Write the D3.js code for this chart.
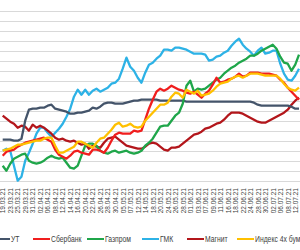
<!DOCTYPE html>
<html>
<head>
<meta charset="utf-8">
<script src="https://cdn.jsdelivr.net/npm/d3@7"></script>
<style>
body{margin:0;background:#fff;}
svg{display:block;font-family:"Liberation Sans",Arial,sans-serif;}
</style>
</head>
<body>
<svg id="chart"></svg>
<script>
var width=300;
var height=250;

// торговые дни
var dates=["19.03.21","22.03.21","23.03.21","24.03.21","25.03.21","26.03.21","29.03.21","30.03.21","31.03.21",
"01.04.21","02.04.21","05.04.21","06.04.21","07.04.21","08.04.21","09.04.21","12.04.21","13.04.21","14.04.21","15.04.21","16.04.21","19.04.21","20.04.21","21.04.21","22.04.21","23.04.21","26.04.21","27.04.21","28.04.21","29.04.21","30.04.21",
"04.05.21","05.05.21","06.05.21","07.05.21","11.05.21","12.05.21","13.05.21","14.05.21","17.05.21","18.05.21","19.05.21","20.05.21","21.05.21","24.05.21","25.05.21","26.05.21","27.05.21","28.05.21","31.05.21",
"01.06.21","02.06.21","03.06.21","04.06.21","07.06.21","08.06.21","09.06.21","10.06.21","11.06.21","15.06.21","16.06.21","17.06.21","18.06.21","21.06.21","22.06.21","23.06.21","24.06.21","25.06.21","28.06.21","29.06.21","30.06.21",
"01.07.21","02.07.21","05.07.21","06.07.21","07.07.21","08.07.21","09.07.21","12.07.21","13.07.21"];

var names=["УТ","Сбербанк","Газпром","ГМК","Магнит","Индекс 4х бумаг"];
var colors=["#44546A","#F01E1E","#1FA64A","#2DB2E6","#B3161B","#FFC000"];

var ut=[0.5,0.5,0.5,0,0,1,10,15.5,16,16,16.5,16.5,17.5,18,16,15.5,15,14.5,13.5,13.5,14,14,14.5,15,16.5,16,17,18.5,19,19,18.5,18.5,18.5,19,19.5,20,20,20.5,20.5,20.5,20.5,20.5,20,20,20,20,20,20,20,
19.5,19.5,19.5,19.5,19.5,19.5,19.5,19.5,19.5,19.5,19.5,19.5,19.5,19.5,19.5,19.5,19.5,19.5,19,18,17.5,17.5,17.5,17.5,17.5,17.5,17.5,17.5,17,16,16];
var sber=[-7.5,-5.5,-5,-4.5,-3,-2,-1,-0.5,0,0.5,1,1.5,0.5,-0.5,-4.5,-7,-8,-9,-7.5,-5.5,-5,-6,-6.5,-7,-4.5,-4.5,-5,-6,-3.5,0,3,4,3.5,3.5,3.5,5,4.5,5,10.5,16,20.5,24.5,26,25,26,27.5,26.5,25.5,25,24,23.5,24.5,23,21.5,23.5,25,28,31.5,29,29.5,30.5,31,32,33.5,32,32.5,34,34,34,33.5,33.5,33.5,33,32.5,30.5,29,26.5,24.5,22.5,20.5];
var gazp=[-12.5,-15,-11.5,-9,-8,-7,-6.5,-10,-11,-11.5,-11,-10,-8.5,-7.5,-8.5,-9,-8.5,-11,-13.5,-14,-12.5,-7.5,-2.5,-1.5,-1.5,-2.5,-5,-6,-6.5,-5.5,-5,-6,-5.5,-5,-6,-6.5,-6,-5,-2.5,-1,1,4,7,7.5,7.5,10,12.5,14,18.5,27.5,30,24.5,26,25.5,26,27.5,29,30.5,31.5,33.5,35,36.5,37.5,39,40,41,42.5,42.5,43.5,45,46,47,48,46,42,39,38.5,35,38,43];
var gmk=[-5,-4,-5,-12.5,-20,-18,-10,-6,-1.5,3.5,6.5,6.5,4,2,4,6,8.5,12,16,22,25.5,23,25.5,23,25,26,24.5,25.5,26.5,28.5,29,31,36,41.5,37,35,31.5,29,34,38,39,41,42.5,45.5,45.5,45,46.5,46.5,46,45.5,44.5,43.5,43.5,43.5,43,40,40.5,42,42.5,44,45,47.5,49.5,51,48,46,44.5,42.5,45,46.5,43.5,44,45,45,38.5,33.5,30.5,30,32.5,36];
var mgnt=[12.5,11,9.5,8.5,6.5,7.5,7,5,8,6.5,7.5,6.5,5,3.5,1.5,0.5,1,0,-0.5,0,-1,-2,-1.5,-4,-2.5,-3,-3.5,-1,1,1.5,2,0.5,-1,-2.5,-3,-3.5,-4,-4,-3,-1.5,-1,-1.5,-3,-4.5,-5,-3.5,-3.5,-3,-1.5,0,1.5,3,3.5,4.5,6,6.5,7.5,8.5,9,10.5,12.5,14,14,14,13.5,12.5,11.5,10.5,9.5,9,9,10,11,12,13,14,15.5,18,20,21.5];
var index4=[-5,-4.5,-4,-3,-2,-2,-1.5,-1,-0.5,0,0,1,1.5,1.5,-2.5,-6,-6,-5,-4,-3,-0.5,-0.5,-1.5,-2.5,-3.5,-1,1,1.5,3.5,5.5,8,9,7,7.5,8.5,7,6.5,7,10,12,14,16,18,18,19,22,24,23.5,21.5,25.5,24.5,23.5,25,22.5,23,23.5,25,27,28.5,29,29.5,31,32,32.5,31.5,32.5,33.5,33.5,33.5,33,32.5,32.5,32.5,32.5,31,28.5,26.5,25.5,25,26.5];

var yTicks=[-20,-15,-10,-5,0,5,10,15,20,25,30,35,40,45,50,55,60,65];

var series=[ut,sber,gazp,gmk,mgnt,index4];
// порядок отрисовки: сначала ГМК, потом остальные
var drawOrder=[3,4,0,2,1,5];

var svg=d3.select('#chart')
    .attr('width',width)
    .attr('height',height);

var xScale=d3.scalePoint()
    .domain(dates)
    .range([2.7,299]);

var yScale=d3.scaleLinear()
    .domain([-20,65])
    .range([180.7,10.7]);

// сетка
svg.append('g')
    .selectAll('line')
    .data(yTicks)
    .enter()
    .append('line')
    .attr('x1',0)
    .attr('x2',width)
    .attr('y1',function(d){return Math.round(yScale(d))+0.5;})
    .attr('y2',function(d){return Math.round(yScale(d))+0.5;})
    .attr('stroke','#D9D9D9')
    .attr('stroke-width',1);

// подписи дат
var xAxis=d3.axisBottom(xScale)
    .tickValues(dates.filter(function(d,i){return i%2===0;}))
    .tickSize(0)
    .tickPadding(0);

var gx=svg.append('g')
    .attr('transform','translate(0,188)')
    .call(xAxis);
gx.select('.domain').remove();
gx.selectAll('text')
    .attr('transform','rotate(-90)')
    .attr('x',0)
    .attr('y',0)
    .attr('dy','0.35em')
    .attr('text-anchor','end')
    .attr('font-size','6.5px')
    .attr('font-family','"Liberation Sans",Arial,sans-serif')
    .attr('fill','#404040');

var line=d3.line()
    .x(function(d,i){return xScale(dates[i]);})
    .y(function(d){return yScale(d);});

svg.append('g')
    .selectAll('path')
    .data(drawOrder)
    .enter()
    .append('path')
    .attr('d',function(k){return line(series[k]);})
    .attr('fill','none')
    .attr('stroke',function(k){return colors[k];})
    .attr('stroke-width',2.3)
    .attr('stroke-linejoin','round');

// легенда
var legendX=[-7,33,87,142,187,237];
var lg=svg.append('g')
    .selectAll('g')
    .data(names)
    .enter()
    .append('g')
    .attr('transform',function(d,i){return 'translate('+legendX[i]+',239)';});

lg.append('line')
    .attr('x1',0)
    .attr('x2',17)
    .attr('stroke',function(d,i){return colors[i];})
    .attr('stroke-width',2);

lg.append('text')
    .attr('x',18)
    .attr('dy','0.35em')
    .attr('font-size','8.5px')
    .attr('fill','#404040')
    .text(function(d){return d;})
    .each(function(){
        // сжимаем текст по ширине, как узкий шрифт в оригинале
        var w=this.getComputedTextLength();
        d3.select(this)
            .attr('textLength',w*0.8)
            .attr('lengthAdjust','spacingAndGlyphs');
    });
</script>
</body>
</html>
